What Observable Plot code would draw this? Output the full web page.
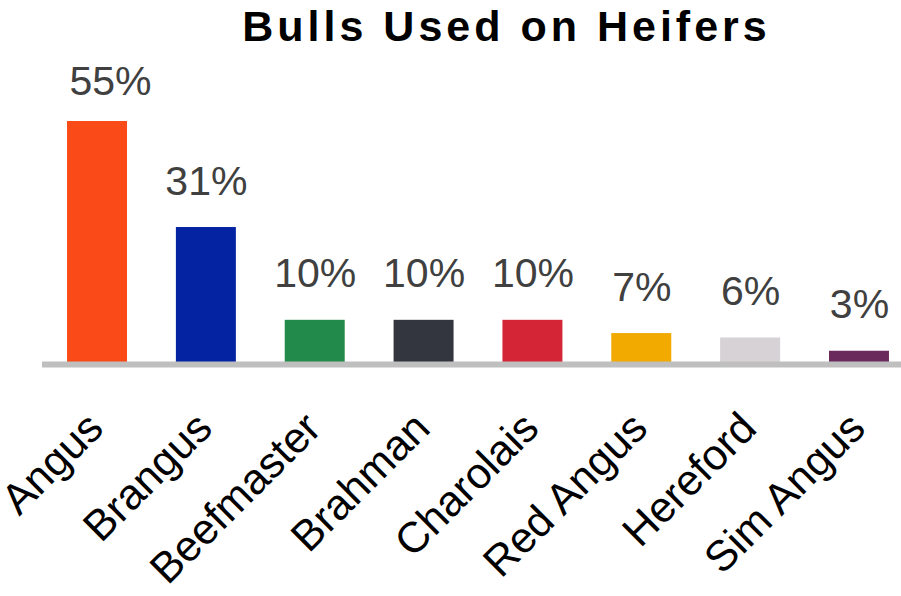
<!DOCTYPE html>
<html>
<head>
<meta charset="utf-8">
<script src="https://cdn.jsdelivr.net/npm/d3@7"></script>
<script src="https://cdn.jsdelivr.net/npm/@observablehq/plot@0.6"></script>
<style>
  body { margin: 0; background: #fff; font-family: "Liberation Sans", Arial, sans-serif; }
  #title { width: 901px; height: 52px; box-sizing: border-box; padding-left: 112px; text-align: center;
           font-weight: bold; font-size: 43px; letter-spacing: 4px; line-height: 52px; color: #000; }
</style>
</head>
<body>
<div id="title">Bulls Used on Heifers</div>
<div id="chart"></div>
<script>
const breeds = ["Angus", "Brangus", "Beefmaster", "Brahman", "Charolais", "Red Angus", "Hereford", "Sim Angus"];
const shares = [55, 31, 10, 10, 10, 7, 6, 3];
const colors = ["#F94A17", "#0323A3", "#228A4A", "#34363F", "#D42537", "#F2A900", "#D6D2D5", "#6A2A5B"];

const data = breeds.map((b, i) => ({breed: b, share: shares[i], color: colors[i], i}));

const chart = Plot.plot({
  width: 901,
  height: 544,
  marginLeft: 42,
  marginRight: 0,
  marginTop: 0,
  marginBottom: 0,
  style: {fontFamily: "'Liberation Sans', Arial, sans-serif", background: "#fff"},
  x: {domain: breeds, range: [42, 914], paddingInner: 0.449, paddingOuter: 0.23, round: false, axis: null},
  y: {domain: [0, 55], range: [312, 69], axis: null},
  color: {type: "identity"},
  marks: [
    Plot.barY(data, {x: "breed", y: "share", fill: "color"}),
    Plot.ruleY([0], {stroke: "#BFBFBF", strokeWidth: 6}),
    Plot.text(data.filter(d => d.i > 0), {x: "breed", y: "share", text: d => d.share + "%", lineAnchor: "bottom", dy: -33, fontSize: 41, fill: "#404040"}),
    Plot.text(data.filter(d => d.i === 0), {x: "breed", y: "share", text: d => d.share + "%", lineAnchor: "bottom", dy: -27, dx: 13, fontSize: 41, fill: "#404040"}),
    Plot.text(data, {x: "breed", y: d => 0, text: "breed", rotate: -45, textAnchor: "end", lineAnchor: "bottom", dx: 8, dy: 66, fontSize: 43, fill: "#000"})
  ]
});
document.getElementById("chart").appendChild(chart);
</script>
</body>
</html>
